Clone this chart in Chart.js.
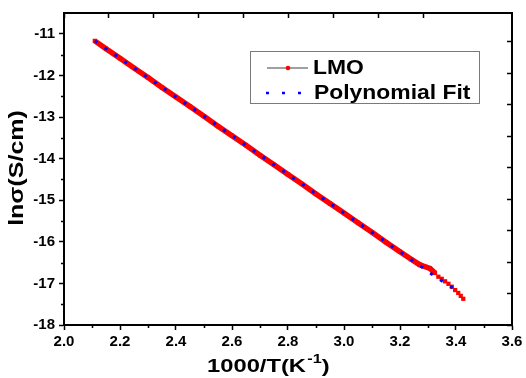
<!DOCTYPE html>
<html>
<head>
<meta charset="utf-8">
<script src="https://cdn.jsdelivr.net/npm/chart.js@4.4.1/dist/chart.umd.min.js"></script>
<style>
body{margin:0;background:#fff}
#wrap{width:526px;height:378px}
</style>
</head>
<body>
<div id="wrap"><canvas id="plot" width="526" height="378"></canvas></div>
<script>
const lmo_x = [2.11, 2.15, 2.20, 2.25, 2.30, 2.35, 2.40, 2.45, 2.50, 2.55, 2.60, 2.65, 2.70, 2.75, 2.80,
  2.85, 2.90, 2.95, 3.00, 3.05, 3.10, 3.15, 3.20, 3.24, 3.27, 3.29, 3.307, 3.325, 3.337, 3.349,
  3.361, 3.373, 3.385, 3.397, 3.408, 3.417, 3.426]
const lmo_y = [-11.17, -11.36, -11.59, -11.82, -12.05, -12.29, -12.52, -12.75, -12.98, -13.22, -13.45, -13.68, -13.92, -14.15, -14.38,
  -14.61, -14.85, -15.08, -15.31, -15.54, -15.77, -16.01, -16.24, -16.42, -16.55, -16.60, -16.64, -16.75, -16.84, -16.89,
  -16.95, -17.01, -17.08, -17.16, -17.23, -17.30, -17.37]

// polynomial fit
const fit_x = [2.11, 2.21, 2.31, 2.41, 2.51, 2.61, 2.71, 2.81, 2.91, 3.01, 3.11, 3.21, 3.27, 3.31, 3.35, 3.40]
const fit_y = [-11.17, -11.635, -12.10, -12.565, -13.03, -13.495, -13.96, -14.425, -14.89, -15.355, -15.82, -16.285, -16.57, -16.76, -16.94, -17.16]

const series_names = ['LMO', 'Polynomial Fit']
const x_range = [2.0, 3.6]
const y_range = [-18, -10.5]
const x_step = 0.2
const y_step = 1
const y_minor = [-17.5, -16.5, -15.5, -14.5, -13.5, -12.5, -11.5]
const x_minor = [2.1, 2.3, 2.5, 2.7, 2.9, 3.1, 3.3, 3.5]

const FONT = "'Liberation Sans', Arial, sans-serif"

function pts(xs, ys){
  return xs.map((v, i) => ({x: v, y: ys[i]}))
}

const decor = {
  id: 'decor',
  afterDraw(chart){
    const c = chart.ctx
    const xs = chart.scales.x, ys = chart.scales.y
    const a = chart.chartArea
    c.save()
    // minor ticks
    c.strokeStyle = '#000'
    c.lineWidth = 1.5
    c.beginPath()
    y_minor.forEach(v => { const p = Math.round(ys.getPixelForValue(v)) + 0.5; c.moveTo(a.left - 3, p); c.lineTo(a.left, p) })
    x_minor.forEach(v => { const p = Math.round(xs.getPixelForValue(v)) + 0.5; c.moveTo(p, a.bottom); c.lineTo(p, a.bottom + 3) })
    c.stroke()

    // legend
    c.fillStyle = '#fff'
    c.fillRect(250, 51, 230, 53)
    c.strokeStyle = '#7a7a7a'
    c.lineWidth = 1
    c.strokeRect(250.5, 51.5, 229, 52)
    c.strokeStyle = '#808080'
    c.lineWidth = 1.5
    c.beginPath(); c.moveTo(267, 68); c.lineTo(308, 68); c.stroke()
    c.fillStyle = '#ff0000'
    c.beginPath(); c.arc(288, 68, 2.3, 0, Math.PI * 2); c.fill()
    c.strokeStyle = '#0000ff'
    c.lineWidth = 2.5
    c.setLineDash([3, 13])
    c.beginPath(); c.moveTo(266, 93); c.lineTo(303, 93); c.stroke()
    c.setLineDash([])
    c.fillStyle = '#000'
    c.font = 'bold 21px ' + FONT
    c.textBaseline = 'middle'
    c.textAlign = 'left'
    c.save(); c.translate(313, 68); c.scale(1.09, 1); c.fillText(series_names[0], 0, 0); c.restore()
    c.save(); c.translate(314, 93); c.scale(1.09, 1); c.fillText(series_names[1], 0, 0); c.restore()

    // x title with superscript
    c.textBaseline = 'alphabetic'
    c.save()
    c.translate(207, 372)
    c.scale(1.25, 1)
    c.font = 'bold 19px ' + FONT
    const part1 = '1000/T(K'
    c.fillText(part1, 0, 0)
    let w = c.measureText(part1).width
    c.font = 'bold 13px ' + FONT
    c.fillText('-1', w + 1, -9)
    w += c.measureText('-1').width + 1
    c.font = 'bold 19px ' + FONT
    c.fillText(')', w, 0)
    c.restore()

    // y title
    c.save()
    c.translate(23, 168)
    c.rotate(-Math.PI / 2)
    c.scale(1.25, 1)
    c.font = 'bold 20px ' + FONT
    c.textAlign = 'center'
    c.fillText('lnσ(S/cm)', 0, 0)
    c.restore()
    c.restore()
  }
}

const onlyInt = s => { s.ticks = s.ticks.filter(t => Math.abs(t.value - Math.round(t.value)) < 1e-6) }

new Chart(document.getElementById('plot'), {
  type: 'scatter',
  data: {
    datasets: [
      {
        label: series_names[0],
        data: pts(lmo_x, lmo_y),
        showLine: true,
        borderColor: '#ff0000',
        borderWidth: 5.5,
        segment: {
          borderColor: ctx => ctx.p0.parsed.x >= 3.32 ? 'rgba(0,0,0,0)' : '#ff0000'
        },
        pointStyle: 'rect',
        pointRadius: 3,
        pointBackgroundColor: '#ff0000',
        pointBorderWidth: 0,
        order: 2
      },
      {
        label: series_names[1],
        data: pts(fit_x, fit_y),
        showLine: true,
        borderColor: '#0000ff',
        borderWidth: 3,
        borderDash: [3, 9],
        pointRadius: 0,
        order: 1
      }
    ]
  },
  options: {
    responsive: false,
    animation: false,
    devicePixelRatio: 1,
    layout: {padding: 0},
    plugins: {legend: {display: false}, tooltip: {enabled: false}},
    scales: {
      x: {
        type: 'linear', position: 'bottom',
        min: x_range[0], max: x_range[1],
        afterFit: s => { s.height = 53 },
        grid: {drawOnChartArea: false, drawTicks: true, tickLength: 5, color: '#000', tickWidth: 1.5},
        border: {display: true, color: '#000', width: 2},
        ticks: {stepSize: x_step, autoSkip: false, maxRotation: 0, padding: 3, color: '#000',
          font: {family: FONT, size: 15, weight: 'bold'},
          callback: v => v.toFixed(1)}
      },
      y: {
        type: 'linear', position: 'left',
        min: y_range[0], max: y_range[1],
        afterFit: s => { s.width = 64 },
        afterBuildTicks: onlyInt,
        grid: {drawOnChartArea: false, drawTicks: true, tickLength: 5, color: '#000', tickWidth: 1.5},
        border: {display: true, color: '#000', width: 2},
        ticks: {stepSize: y_step, autoSkip: false, padding: 4, color: '#000',
          font: {family: FONT, size: 15, weight: 'bold'},
          callback: v => String(v)}
      },
      x2: {
        type: 'linear', position: 'top',
        min: 0, max: 9.956,
        afterFit: s => { s.height = 3 },
        afterBuildTicks: onlyInt,
        grid: {drawOnChartArea: false, drawTicks: true, tickLength: -5, color: '#000', tickWidth: 1.5},
        border: {display: true, color: '#000', width: 2},
        ticks: {display: false, stepSize: 1}
      },
      y2: {
        type: 'linear', position: 'right',
        min: 0, max: 9.908,
        afterFit: s => { s.width = 14 },
        afterBuildTicks: onlyInt,
        grid: {drawOnChartArea: false, drawTicks: true, tickLength: -5, color: '#000', tickWidth: 1.5},
        border: {display: true, color: '#000', width: 2},
        ticks: {display: false, stepSize: 1}
      }
    }
  },
  plugins: [decor]
})
</script>
</body>
</html>
